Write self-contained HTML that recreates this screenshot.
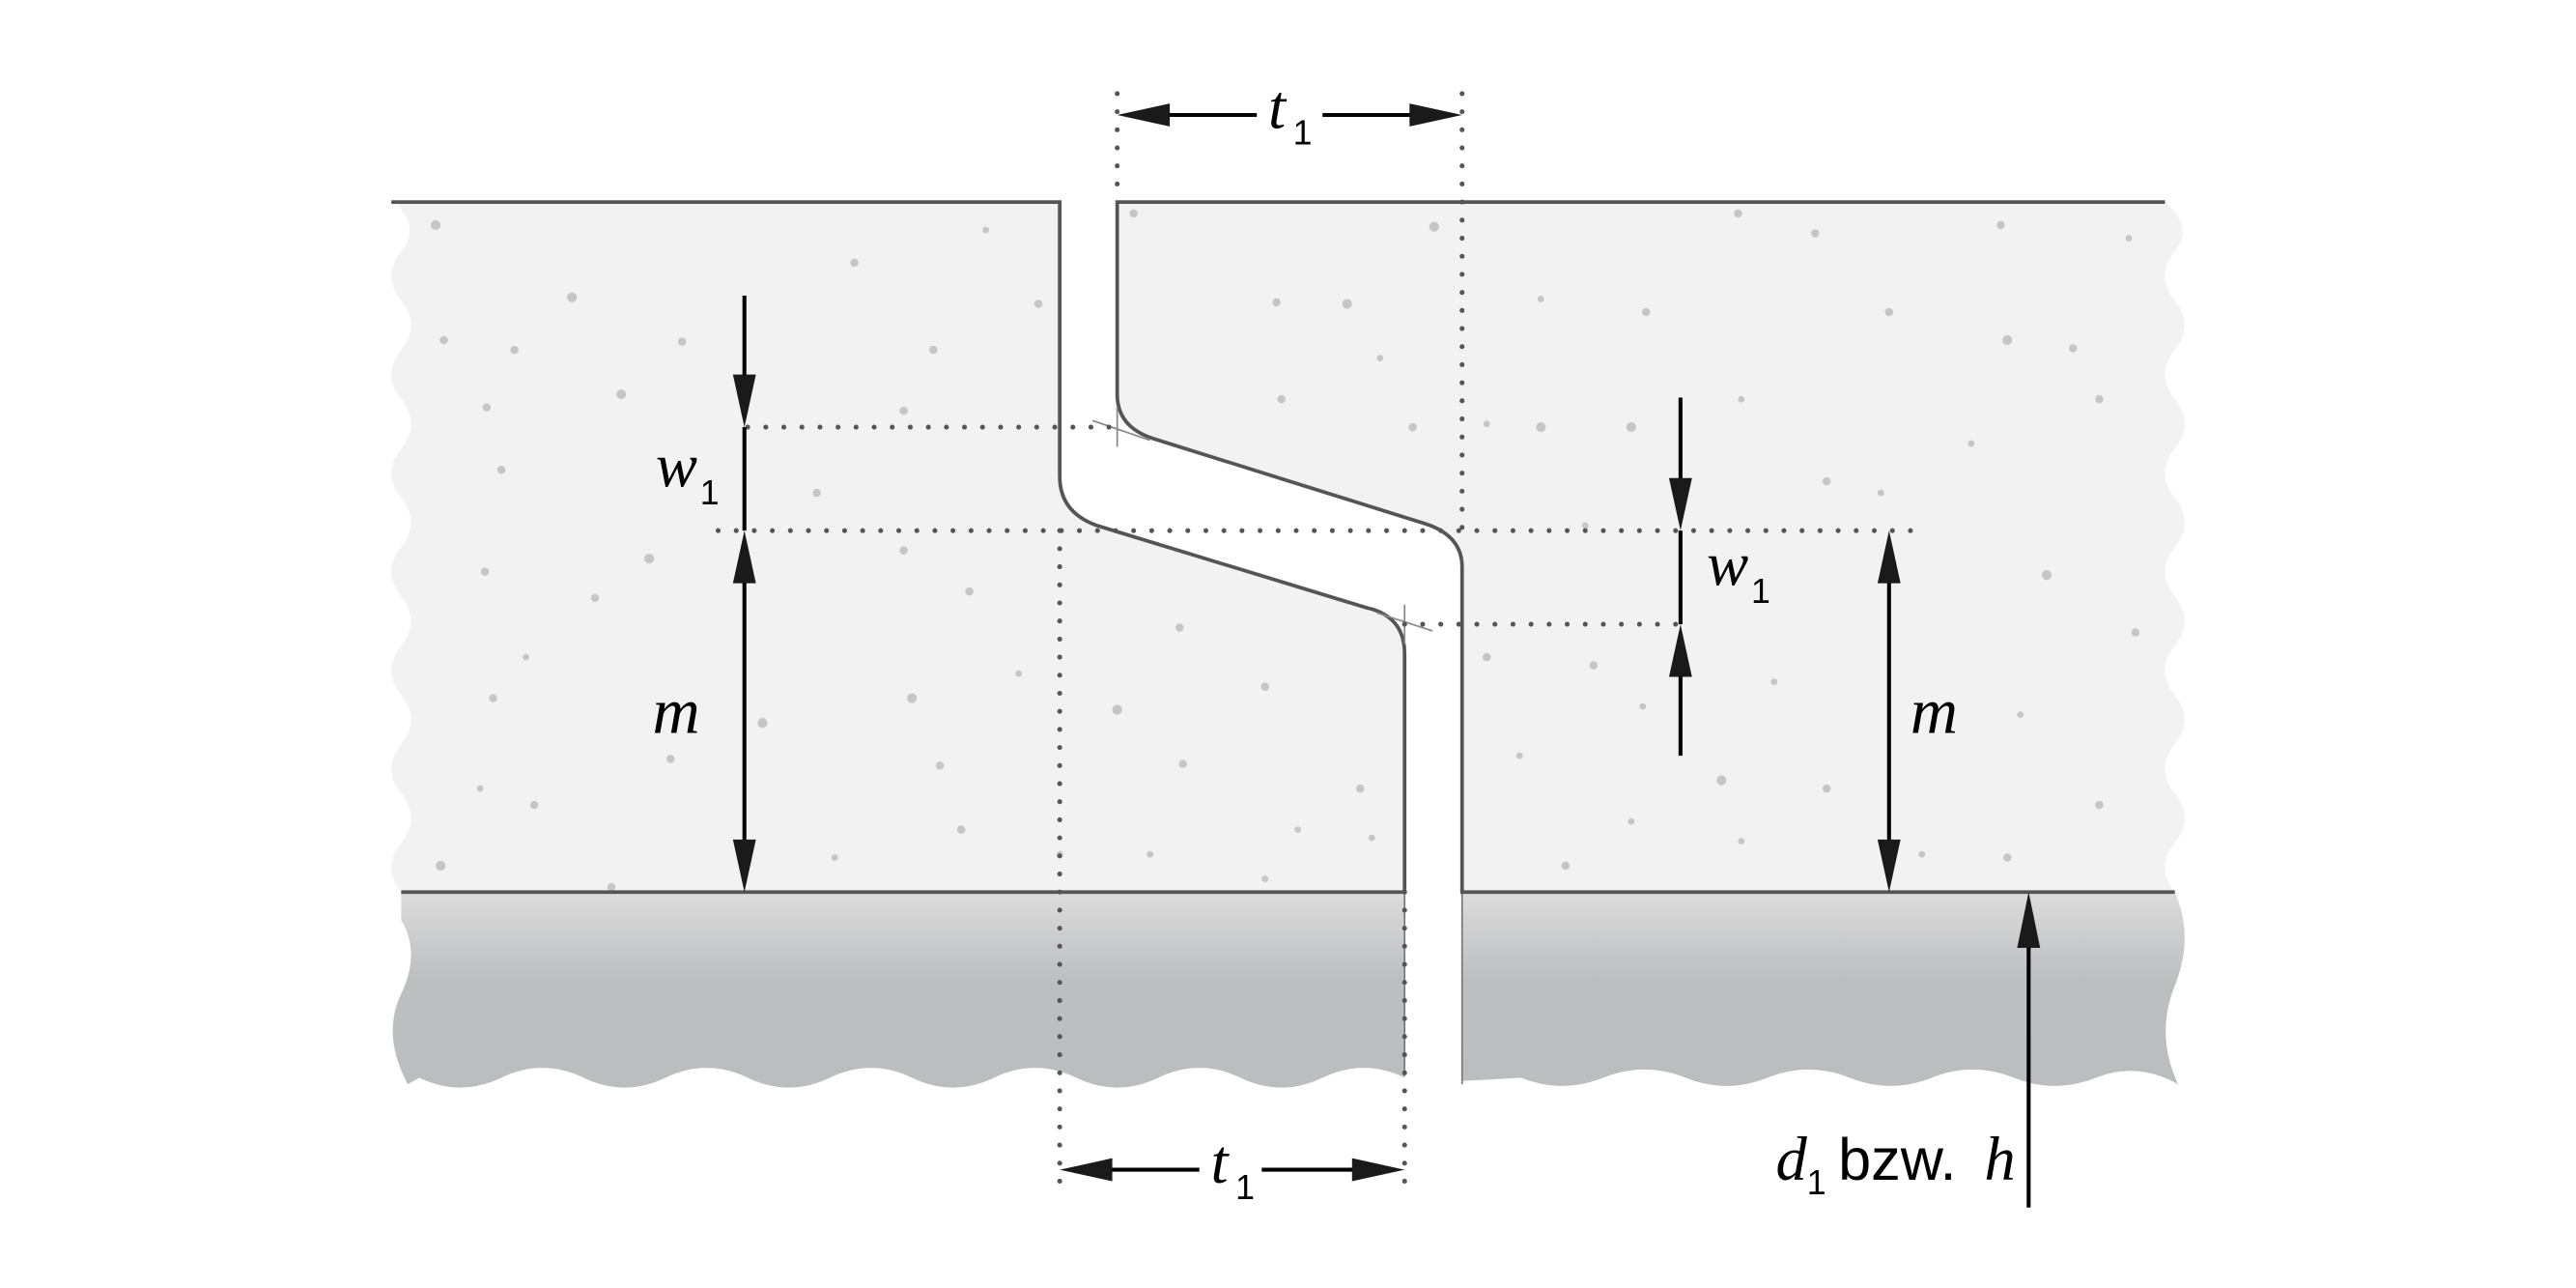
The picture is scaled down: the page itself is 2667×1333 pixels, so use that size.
<!DOCTYPE html>
<html><head><meta charset="utf-8"><style>
html,body{margin:0;padding:0;background:#fff;}
svg{display:block;}
.it{font-family:"Liberation Serif",serif;font-style:italic;fill:#000;}
.sb{font-family:"Liberation Sans",sans-serif;fill:#000;}
</style></head><body>
<svg width="2667" height="1333" viewBox="0 0 1568 784" xmlns="http://www.w3.org/2000/svg">
<defs>
<linearGradient id="g" x1="0" y1="0" x2="0" y2="1">
<stop offset="0" stop-color="#dcdcdc"/><stop offset="0.45" stop-color="#bdbec0"/><stop offset="1" stop-color="#bcbdbf"/>
</linearGradient>
</defs>
<!-- base -->
<path d="M244,543 L855,543 L855,656 Q830,644 805,656 T755,656 T705,656 T655,656 T605,656 T555,656 T505,656 T455,656 T405,656 T355,656 T305,656 T255,656 L248,660 Q232,630 244,605 T244,560 L244,543 Z" fill="url(#g)"/>
<path d="M890,543 L1324,543 Q1336,570 1324,600 T1326,660 Q1301,646 1276,656 T1226,656 T1176,656 T1126,656 T1076,656 T1026,656 T976,656 T926,656 L890,658 Z" fill="url(#g)"/>
<line x1="855" y1="543" x2="855" y2="655" stroke="#777" stroke-width="1"/>
<line x1="890" y1="543" x2="890" y2="660" stroke="#777" stroke-width="1"/>
<!-- slabs -->
<path d="M645,123 L240,123 Q256,138 244,153 T244,183 T244,213 T244,243 T244,273 T244,303 T244,333 T244,363 T244,393 T244,423 T244,453 T244,483 T244,513 T244,543 L855,543 L855,398 Q855,375 832,370 L668,320 Q645,312 645,290 Z" fill="#f2f2f2"/>
<path d="M680,123 L1318,123 Q1336,138 1324,153 T1324,183 T1324,213 T1324,243 T1324,273 T1324,303 T1324,333 T1324,363 T1324,393 T1324,423 T1324,453 T1324,483 T1324,513 T1324,543 L890,543 L890,345 Q890,325 865,318 L702,267 Q680,260 680,240 Z" fill="#f2f2f2"/>
<!-- speckles -->
<g fill="#c6c6c6">
<circle cx="265" cy="137" r="3"/><circle cx="348" cy="181" r="3"/><circle cx="270" cy="207" r="2.5"/><circle cx="313" cy="213" r="2.5"/><circle cx="378" cy="240" r="3"/><circle cx="415" cy="208" r="2.5"/><circle cx="520" cy="160" r="2.5"/><circle cx="568" cy="213" r="2.5"/><circle cx="550" cy="250" r="2.5"/><circle cx="296" cy="248" r="2.5"/><circle cx="305" cy="286" r="2.5"/><circle cx="395" cy="340" r="3"/><circle cx="295" cy="348" r="2.5"/><circle cx="362" cy="364" r="2.5"/><circle cx="320" cy="400" r="2"/><circle cx="300" cy="425" r="2.5"/><circle cx="408" cy="462" r="2.5"/><circle cx="292" cy="480" r="2"/><circle cx="325" cy="490" r="2.5"/><circle cx="268" cy="527" r="3"/><circle cx="372" cy="540" r="2.5"/><circle cx="497" cy="300" r="2.5"/><circle cx="550" cy="335" r="2.5"/><circle cx="590" cy="360" r="2.5"/><circle cx="464" cy="440" r="3"/><circle cx="555" cy="425" r="3"/><circle cx="572" cy="466" r="2.5"/><circle cx="620" cy="410" r="2"/><circle cx="600" cy="140" r="2"/><circle cx="632" cy="185" r="2.5"/><circle cx="718" cy="382" r="2.5"/><circle cx="680" cy="432" r="3"/><circle cx="770" cy="418" r="2.5"/><circle cx="720" cy="465" r="2.5"/><circle cx="790" cy="505" r="2"/><circle cx="828" cy="480" r="2.5"/><circle cx="835" cy="510" r="2"/><circle cx="770" cy="535" r="2"/><circle cx="700" cy="520" r="2"/><circle cx="645" cy="520" r="2"/><circle cx="585" cy="505" r="2.5"/><circle cx="508" cy="522" r="2"/>
<circle cx="690" cy="130" r="2.5"/><circle cx="777" cy="184" r="2.5"/><circle cx="820" cy="185" r="3"/><circle cx="780" cy="243" r="2.5"/><circle cx="840" cy="218" r="2"/><circle cx="873" cy="138" r="3"/><circle cx="860" cy="260" r="2.5"/><circle cx="905" cy="258" r="2"/><circle cx="938" cy="182" r="2"/><circle cx="1002" cy="190" r="2.5"/><circle cx="1058" cy="130" r="2.5"/><circle cx="1105" cy="142" r="2.5"/><circle cx="1150" cy="190" r="2.5"/><circle cx="1222" cy="207" r="3"/><circle cx="1262" cy="212" r="2.5"/><circle cx="1218" cy="137" r="2.5"/><circle cx="1296" cy="145" r="2"/><circle cx="938" cy="260" r="3"/><circle cx="993" cy="260" r="3"/><circle cx="1060" cy="243" r="2"/><circle cx="1112" cy="293" r="2.5"/><circle cx="1145" cy="300" r="2"/><circle cx="1200" cy="270" r="2"/><circle cx="1278" cy="243" r="2.5"/><circle cx="1246" cy="350" r="3"/><circle cx="1300" cy="385" r="2.5"/><circle cx="1230" cy="435" r="2"/><circle cx="1278" cy="490" r="2.5"/><circle cx="1222" cy="522" r="2.5"/><circle cx="1170" cy="520" r="2"/><circle cx="1112" cy="480" r="2.5"/><circle cx="1048" cy="475" r="3"/><circle cx="1060" cy="512" r="2"/><circle cx="953" cy="527" r="2.5"/><circle cx="993" cy="500" r="2"/><circle cx="970" cy="405" r="2.5"/><circle cx="1000" cy="430" r="2"/><circle cx="905" cy="400" r="2.5"/><circle cx="925" cy="460" r="2"/><circle cx="1080" cy="415" r="2"/><circle cx="965" cy="320" r="2"/>
</g>
<!-- outlines -->
<g fill="none" stroke="#555" stroke-width="2.2">
<path d="M238,123 L645,123 L645,290 Q645,312 668,320 L832,370 Q855,375 855,398 L855,543 L244,543"/>
<path d="M1318,123 L680,123 L680,240 Q680,260 702,267 L865,318 Q890,325 890,345 L890,543 L1324,543"/>
</g>
<g stroke="#888" stroke-width="1">
<line x1="680" y1="248" x2="680" y2="272"/><line x1="665" y1="256" x2="700" y2="268"/>
<line x1="855" y1="368" x2="855" y2="392"/><line x1="838" y1="373" x2="872" y2="384"/>
</g>
<!-- dotted -->
<g stroke="#555" stroke-width="3" stroke-linecap="round" stroke-dasharray="0 11" fill="none">
<line x1="680" y1="57" x2="680" y2="123"/>
<line x1="890" y1="57" x2="890" y2="330"/>
<line x1="455" y1="260" x2="680" y2="260"/>
<line x1="437" y1="323" x2="1165" y2="323"/>
<line x1="855" y1="380" x2="1030" y2="380"/>
<line x1="645" y1="323" x2="645" y2="725"/>
<line x1="855" y1="543" x2="855" y2="725"/>
</g>
<!-- dimension lines -->
<g stroke="#000" stroke-width="2.4">
<line x1="700" y1="70" x2="765" y2="70"/><line x1="805" y1="70" x2="870" y2="70"/>
<line x1="665" y1="712" x2="730" y2="712"/><line x1="768" y1="712" x2="835" y2="712"/>
<line x1="453" y1="180" x2="453" y2="240"/><line x1="453" y1="260" x2="453" y2="323"/><line x1="453" y1="345" x2="453" y2="520"/>
<line x1="1023" y1="242" x2="1023" y2="300"/><line x1="1023" y1="323" x2="1023" y2="380"/><line x1="1023" y1="405" x2="1023" y2="460"/>
<line x1="1150" y1="345" x2="1150" y2="520"/>
<line x1="1235" y1="565" x2="1235" y2="735"/>
</g>
<g fill="#1a1a1a">
<polygon points="680,70 712,63 712,77"/><polygon points="890,70 858,63 858,77"/>
<polygon points="645,712 677,705 677,719"/><polygon points="855,712 823,705 823,719"/>
<polygon points="453,260 446,228 460,228"/><polygon points="453,323 446,355 460,355"/><polygon points="453,543 446,511 460,511"/>
<polygon points="1023,323 1016,291 1030,291"/><polygon points="1023,380 1016,412 1030,412"/>
<polygon points="1150,323 1143,355 1157,355"/><polygon points="1150,543 1143,511 1157,511"/>
<polygon points="1235,543 1228,577 1242,577"/>
</g>
<!-- labels -->
<text class="it" x="772" y="78" font-size="38">t</text><text class="sb" x="787" y="88" font-size="21">1</text>
<text class="it" x="737" y="720" font-size="38">t</text><text class="sb" x="752" y="730" font-size="21">1</text>
<text class="it" x="399" y="296" font-size="38">w</text><text class="sb" x="426" y="307" font-size="21">1</text>
<text class="it" x="1039" y="356" font-size="38">w</text><text class="sb" x="1066" y="367" font-size="21">1</text>
<text class="it" x="397" y="446" font-size="40">m</text>
<text class="it" x="1163" y="446" font-size="40">m</text>
<text class="it" x="1081" y="718" font-size="38">d</text><text class="sb" x="1100" y="727" font-size="21">1</text>
<text class="sb" x="1119" y="718" font-size="36">bzw.</text><text class="it" x="1208" y="718" font-size="38">h</text>
</svg>
</body></html>
